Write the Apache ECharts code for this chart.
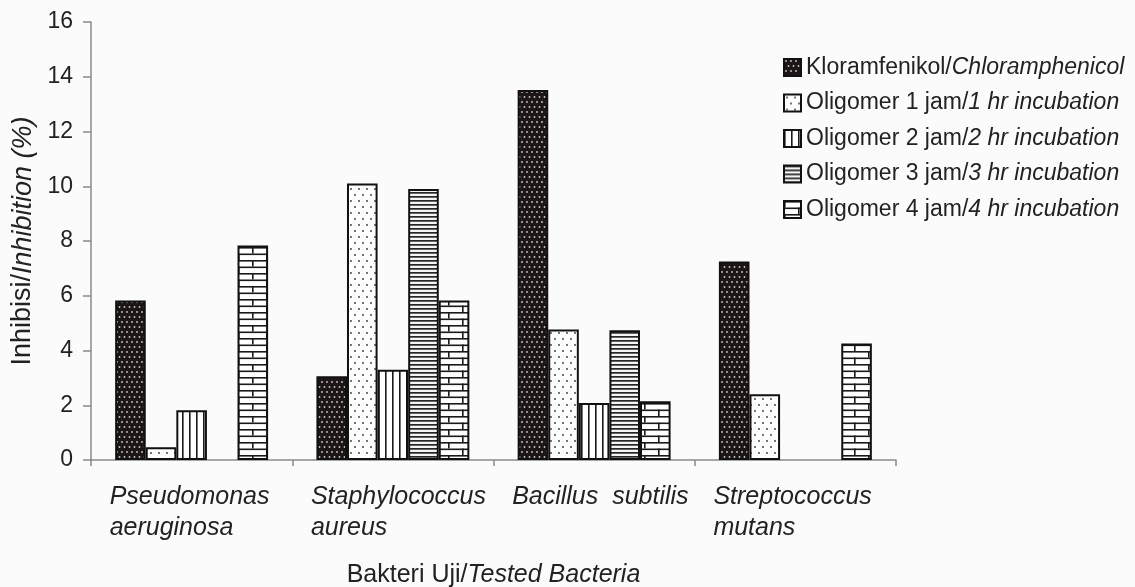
<!DOCTYPE html>
<html>
<head>
<meta charset="utf-8">
<script src="https://cdn.jsdelivr.net/npm/echarts@6/dist/echarts.min.js"></script>
<style>
html,body{margin:0;padding:0;background:#fbfbfb;}
#c{width:1135px;height:587px;}
</style>
</head>
<body>
<div id="c"></div>
<script>
// ---- data ----
var categories = ['Pseudomonas\naeruginosa', 'Staphylococcus\naureus', 'Bacillus  subtilis', 'Streptococcus\nmutans'];
var seriesNames = [
  'Kloramfenikol/Chloramphenicol',
  'Oligomer 1 jam/1 hr incubation',
  'Oligomer 2 jam/2 hr incubation',
  'Oligomer 3 jam/3 hr incubation',
  'Oligomer 4 jam/4 hr incubation'
];
var chloramphenicol = [5.83, 3.06, 13.52, 7.25];
var oligomer1 = [0.47, 10.1, 4.77, 2.4];
var oligomer2 = [1.82, 3.3, 2.08, 0];
var oligomer3 = [0, 9.9, 4.74, 0];
var oligomer4 = [7.84, 5.83, 2.15, 4.26];
var yTicks = {min: 0, max: 16, interval: 2};

// ---- patterns ----
function mk(w, h, draw) {
  var c = document.createElement('canvas');
  c.width = w; c.height = h;
  var g = c.getContext('2d');
  draw(g, w, h);
  return {image: c, repeat: 'repeat'};
}
function dot(g, x, y, r) { g.beginPath(); g.arc(x, y, r, 0, Math.PI * 2); g.fill(); }
var patDark = mk(10, 10, function (g) {
  g.fillStyle = '#1d1617'; g.fillRect(0, 0, 10, 10);
  g.fillStyle = '#cfc7c7';
  dot(g, 2, 2, 0.9); dot(g, 7, 2, 0.9); dot(g, 4.5, 7, 0.9); dot(g, 9.5, 7, 0.9); dot(g, -0.5, 7, 0.9);
});
var patDots = mk(16, 12, function (g) {
  g.fillStyle = '#ffffff'; g.fillRect(0, 0, 16, 12);
  g.fillStyle = '#333';
  dot(g, 3, 3, 0.9); dot(g, 11, 3, 0.9); dot(g, 7, 9, 0.9); dot(g, 15, 9, 0.9);
});
var patVert = mk(7, 4, function (g) {
  g.fillStyle = '#ffffff'; g.fillRect(0, 0, 7, 4);
  g.fillStyle = '#1a1a1a'; g.fillRect(0, 0, 1.6, 4);
});
var patHorz = mk(4, 4, function (g) {
  g.fillStyle = '#f4f4f4'; g.fillRect(0, 0, 4, 4);
  g.fillStyle = '#262626'; g.fillRect(0, 0, 4, 1.7);
});
var patBrick = mk(28, 13, function (g) {
  g.fillStyle = '#ffffff'; g.fillRect(0, 0, 28, 13);
  g.fillStyle = '#1a1a1a';
  g.fillRect(0, 0, 28, 1.6);
  g.fillRect(0, 6.5, 28, 1.6);
  g.fillRect(0, 0, 1.6, 6.5);
  g.fillRect(14, 6.5, 1.6, 6.5);
});
var patterns = [patDark, patDots, patVert, patHorz, patBrick];
var values = [chloramphenicol, oligomer1, oligomer2, oligomer3, oligomer4];

var series = seriesNames.map(function (n, i) {
  return {
    name: n,
    type: 'bar',
    barGap: '0%',
    barCategoryGap: '24%',
    itemStyle: {color: patterns[i], borderColor: '#111', borderWidth: 2},
    data: values[i].map(function (v) {
      return v === 0 ? {value: v, itemStyle: {borderWidth: 0}} : v;
    })
  };
});

var FONT = '"Liberation Sans", Arial, sans-serif';
var richNI = function (size) {
  return {
    n: {fontFamily: FONT, fontSize: size, color: '#222'},
    i: {fontFamily: FONT, fontSize: size, color: '#222', fontStyle: 'italic'}
  };
};
var chart = echarts.init(document.getElementById('c'));
chart.setOption({
  backgroundColor: '#fbfbfb',
  animation: false,
  textStyle: {fontFamily: FONT, color: '#222'},
  grid: {left: 91, right: 239, top: 22, bottom: 127, containLabel: false, outerBoundsMode: 'none'},
  legend: {
    orient: 'vertical',
    left: 778,
    top: 51,
    itemWidth: 17,
    itemHeight: 17,
    itemGap: 12.5,
    icon: 'rect',
    data: seriesNames,
    formatter: function (name) {
      var k = name.indexOf('/');
      return '{n|' + name.slice(0, k + 1) + '}{i|' + name.slice(k + 1) + '}';
    },
    textStyle: {
      fontFamily: FONT, fontSize: 23, color: '#222',
      rich: {
        n: {fontFamily: FONT, fontSize: 23, color: '#222', lineHeight: 25},
        i: {fontFamily: FONT, fontSize: 23, color: '#222', fontStyle: 'italic', lineHeight: 25}
      }
    }
  },
  xAxis: {
    type: 'category',
    data: categories,
    name: '{n|Bakteri Uji/}{i|Tested Bacteria}',
    nameLocation: 'middle',
    nameGap: 103,
    nameTextStyle: {fontFamily: FONT, fontSize: 25, color: '#222', rich: richNI(25)},
    axisLine: {lineStyle: {color: '#8a8a8a', width: 1.5}},
    axisTick: {show: true, length: 6, lineStyle: {color: '#8a8a8a', width: 1.5}},
    axisLabel: {
      interval: 0,
      margin: 22,
      formatter: function (v) {
        return v.split('\n').map(function (s) { return '{a|' + s + '}'; }).join('\n');
      },
      rich: {
        a: {fontFamily: FONT, fontSize: 25, fontStyle: 'italic', color: '#222', width: 164, align: 'left', lineHeight: 31}
      }
    }
  },
  yAxis: {
    type: 'value',
    min: yTicks.min,
    max: yTicks.max,
    interval: yTicks.interval,
    name: '{n|Inhibisi/}{i|Inhibition (%)}',
    nameLocation: 'middle',
    nameGap: 49,
    nameTextStyle: {fontFamily: FONT, fontSize: 27, color: '#222', rich: richNI(27)},
    axisLine: {show: true, lineStyle: {color: '#8a8a8a', width: 1.5}},
    axisTick: {show: true, length: 8, lineStyle: {color: '#8a8a8a', width: 1.5}},
    axisLabel: {margin: 18, fontFamily: FONT, fontSize: 23, color: '#222'},
    splitLine: {show: false}
  },
  series: series
});
</script>
</body>
</html>
